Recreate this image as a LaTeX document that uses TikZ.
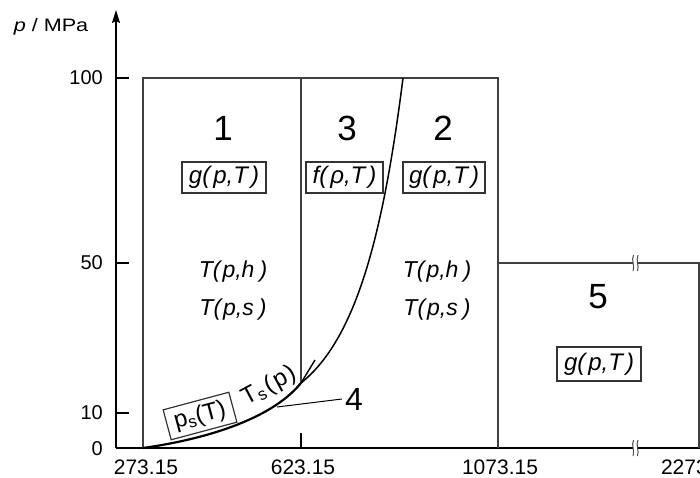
\documentclass[tikz,border=0pt]{standalone}
\usepackage{fontspec}
\setmainfont{Liberation Sans}
\newfontfamily\widefont[FakeStretch=1.2]{Liberation Sans}
\usetikzlibrary{arrows.meta}
\begin{document}
\begin{tikzpicture}[x=1pt,y=-1pt,
  frame/.style={draw=black!75, line width=1.2pt},
  axis/.style={draw=black, line width=1.4pt},
  ticklab/.style={font=\fontsize{20}{24}\selectfont, inner sep=0pt},
  xlab/.style={font=\fontsize{21}{24}\selectfont, inner sep=0pt},
  regnum/.style={font=\fontsize{35}{40}\selectfont, inner sep=0pt},
  fbox/.style={draw=black!80, line width=1.2pt, minimum width=84pt, minimum height=31pt, inner sep=1pt, font=\fontsize{24}{28}\selectfont\itshape},
  formula/.style={font=\fontsize{23}{27}\selectfont\itshape, inner sep=0pt},
  curve/.style={draw=black, line width=1.5pt},
  leader/.style={draw=black, line width=1pt},
]
\useasboundingbox (0,0) rectangle (700,477);

% axes
\coordinate (O) at (116,448);
\coordinate (Ytop) at (116,10);
\coordinate (Xend) at (700,448);
\draw[axis] (O) -- (Xend);
\draw[axis, -{Stealth[length=13pt,width=8pt,inset=2pt]}] (O) -- (Ytop);
\node[font=\fontsize{18}{22}\selectfont\widefont, inner sep=0pt] (ylab) at (51,27) {\textit{p} / MPa};

% y ticks
\draw[axis] (116,78) -- (129,78);
\draw[axis] (116,263) -- (129,263);
\draw[axis] (116,413) -- (129,413);
\node[ticklab, anchor=east] (y100) at (103,78) {100};
\node[ticklab, anchor=east] (y50) at (103,263) {50};
\node[ticklab, anchor=east] (y10) at (103,413) {10};
\node[ticklab, anchor=east] (y0) at (103,449) {0};

% x ticks
\draw[axis] (301,448) -- (301,433);
\node[xlab] (x1) at (146,467) {273.15};
\node[xlab] (x2) at (303,467) {623.15};
\node[xlab] (x3) at (500,467) {1073.15};
\node[xlab] (x4) at (699,467) {2273.15};

% region frames
\draw[frame] (143,448) -- (143,78) -- (498,78) -- (498,448);
\draw[frame] (301,78) -- (301,383);
\draw[frame] (498,263) -- (699,263) -- (699,448);

% breaks
\fill[white] (633,256) rectangle (638,270);
\fill[white] (633,441) rectangle (638,455);
\foreach \yy in {263,448}{
  \draw[draw=black!70, line width=1pt] (633.5,\yy-8) .. controls (631,\yy-3) and (635,\yy+3) .. (633,\yy+8);
  \draw[draw=black!70, line width=1pt] (638,\yy-8) .. controls (635.5,\yy-3) and (639.5,\yy+3) .. (637.5,\yy+8);
}

% saturation curve
\coordinate (tp) at (143,448);
\coordinate (j) at (301,383);
\coordinate (cp) at (315,360);
\coordinate (top23) at (403,78);
\draw[draw=black, line width=2.2pt] (tp) .. controls (200,440) and (270,421) .. (j);
\draw[draw=black, line width=1.4pt] (j) .. controls (308,372) .. (cp);
% B23 boundary
\draw[curve] (j) .. controls (356,339) and (383,236) .. (top23);

% region numbers
\node[regnum] (r1) at (223,128) {1};
\node[regnum] (r3) at (347,128) {3};
\node[regnum] (r2) at (443,128) {2};
\node[regnum] (r5) at (598,297) {5};

% formulas
\node[fbox] (g1) at (224,177.5) {g(\hspace{3pt}p,T\hspace{3pt})};
\node[fbox, minimum width=77pt] (f3) at (344.5,177.5) {f(\hspace{3pt}ρ,T\hspace{3pt})};
\node[fbox, minimum width=82pt] (g2) at (444,177.5) {g(\hspace{3pt}p,T\hspace{3pt})};
\node[fbox, minimum height=34pt] (g5) at (599,364) {g(\hspace{3pt}p,T\hspace{3pt})};

\node[formula] (th1) at (233,272) {T(\hspace{2pt}p,h\hspace{5pt})};
\node[formula] (ts1) at (233,310) {T(\hspace{2pt}p,s\hspace{5pt})};
\node[formula] (th2) at (437,272) {T(\hspace{2pt}p,h\hspace{5pt})};
\node[formula] (ts2) at (437,310) {T(\hspace{2pt}p,s\hspace{5pt})};

% saturation labels
\node[draw=black!80, line width=1.2pt, minimum width=68pt, minimum height=31pt, inner sep=1pt,
      font=\fontsize{24}{28}\selectfont, rotate=15] (ps) at (200,416) {p\textsubscript{s}(T)};
\node[font=\fontsize{24}{28}\selectfont, inner sep=0pt, rotate=28] (tsp) at (269,386) {T\textsubscript{s}\hspace{2pt}(\hspace{2pt}p\hspace{1pt})};

% region 4
\coordinate (c4) at (277,407);
\node[font=\fontsize{32}{36}\selectfont, inner sep=0pt] (r4) at (354,399) {4};
\draw[leader] (c4) -- ([xshift=-3pt]r4.west);
\end{tikzpicture}
\end{document}
